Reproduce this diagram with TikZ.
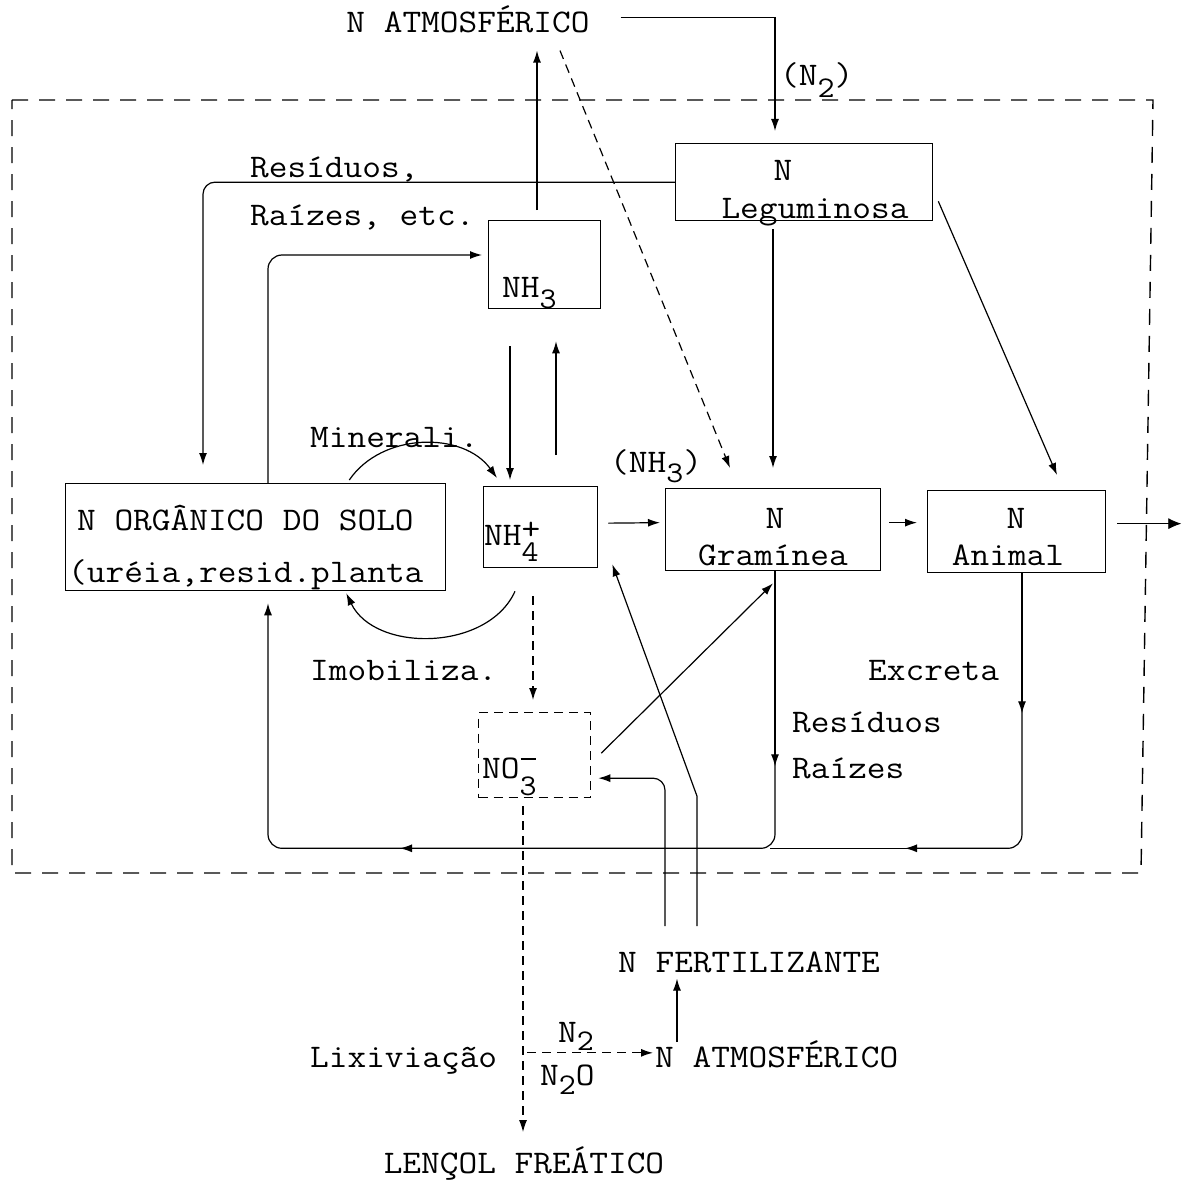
\documentclass[tikz,border=0pt]{standalone}
\usepackage{fontspec}
\setmonofont{Latin Modern Mono}[FakeStretch=1.1]
\usetikzlibrary{arrows.meta,calc}
\newcommand{\subdn}[2][-11pt]{\raisebox{#1}{\fontsize{30}{30}\selectfont #2}}
\begin{document}
\begin{tikzpicture}[x=1pt,y=-1pt,
  box/.style={draw,line width=1.3pt,inner sep=0pt},
  lbl/.style={font=\fontsize{33}{38}\selectfont\ttfamily,inner sep=0pt},
  ln/.style={line width=1.2pt},
  arr/.style={ln,-{Latex[length=12pt,width=8pt]}},
  dsh/.style={dash pattern=on 9pt off 6pt},
  frame/.style={line width=1.4pt,dash pattern=on 16pt off 11pt}
]
\fill[white] (0,0) rectangle (1189,1188);
\useasboundingbox (0,0) rectangle (1189,1188);

% system boundary
\draw[frame] (12,100) -- (1153,100) -- (1141,873) -- (12,873) -- cycle;

% boxes
\node[box,minimum width=257pt,minimum height=77pt,anchor=north west] (leg) at (675,143) {};
\node[box,minimum width=112pt,minimum height=88pt,anchor=north west] (nh3) at (488,220) {};
\node[box,minimum width=380pt,minimum height=107pt,anchor=north west] (org) at (65,483) {};
\node[box,minimum width=114pt,minimum height=81pt,anchor=north west] (nh4) at (483,486) {};
\node[box,minimum width=215pt,minimum height=82pt,anchor=north west] (gram) at (665,488) {};
\node[box,minimum width=178pt,minimum height=82pt,anchor=north west] (anim) at (927,490) {};
\node[box,dsh,minimum width=112pt,minimum height=85pt,anchor=north west] (no3) at (478,712) {};

% texts
\node[lbl,anchor=base] (atm1) at (468,33) {N ATMOSFÉRICO};
\node[lbl,anchor=base west] (n2lbl) at (780,86) {(N\subdn[-12pt]{2})};
\node[lbl,anchor=base west] (res1) at (250,178) {Resíduos,};
\node[lbl,anchor=base west] (rai1) at (250,225) {Raízes, etc.};
\node[lbl,anchor=base west] (nh3t) at (502,297) {NH\subdn{3}};
\node[lbl,anchor=base] (legn) at (783,180) {N};
\node[lbl,anchor=base] (legt) at (815,218) {Leguminosa};
\node[lbl,anchor=base west] (minl) at (310,447) {Minerali.};
\node[lbl,anchor=base west] (orgt1) at (77,530) {N ORGÂNICO DO SOLO};
\node[lbl,anchor=base west] (orgt2) at (68,582) {(uréia,resid.planta};
\node[lbl,anchor=base west] (nh4t) at (484,545) {NH\rlap{\raisebox{6pt}{+}}\subdn[-16pt]{4}};
\node[lbl,anchor=base west] (nh3p) at (610,472) {(NH\subdn[-10pt]{3})};
\node[lbl,anchor=base] (gramn) at (775,528) {N};
\node[lbl,anchor=base] (gramt) at (773,565) {Gramínea};
\node[lbl,anchor=base] (animn) at (1016,528) {N};
\node[lbl,anchor=base] (animt) at (1008,565) {Animal};
\node[lbl,anchor=base west] (imob) at (310,680) {Imobiliza.};
\node[lbl,anchor=base west] (excr) at (868,680) {Excreta};
\node[lbl,anchor=base west] (res2) at (792,732) {Resíduos};
\node[lbl,anchor=base west] (rai2) at (792,778) {Raízes};
\node[lbl,anchor=base west] (no3t) at (482,778) {NO\rlap{\raisebox{18pt}{\kern1pt\rule{15pt}{2pt}}}\subdn[-17pt]{3}};
\node[lbl,anchor=base west] (fert) at (618,972) {N FERTILIZANTE};
\node[lbl,anchor=base west] (lix) at (310,1067) {Lixiviação};
\node[lbl,anchor=base west] (n2b) at (558,1042) {N\subdn[-8pt]{2}};
\node[lbl,anchor=base west] (n2o) at (540,1085) {N\subdn[-9pt]{2}O};
\node[lbl,anchor=base west] (batm) at (655,1067) {N ATMOSFÉRICO};
\node[lbl,anchor=base] (lenc) at (524,1173) {LENÇOL FREÁTICO};

% connectors
\draw[arr] ($(atm1.east)+(31,-2)$) -| ($(leg.north west)+(100,-12)$);
\draw[arr] ($(nh3.north west)+(49,-10)$) -- ($(atm1.south)+(69,17)$);
\draw[arr,dsh] ($(atm1.south)+(92,17)$) -- ($(gram.north west)+(65,-20)$);
\draw[arr,rounded corners=12pt] (leg.west) -| ($(org.north west)+(138,-18)$);
\draw[arr,rounded corners=14pt] ($(org.north west)+(203,0)$) |- ($(nh3.north west)+(-6,35)$);
\draw[arr] ($(org.north east)+(-97,-3)$) to[bend left=55] ($(nh4.north west)+(14,-8)$);
\draw[arr] ($(nh4.south west)+(32,23)$) to[bend left=65] ($(org.south east)+(-100,2)$);
\draw[arr] ($(nh3.south west)+(22,37)$) -- ($(nh4.north west)+(27,-6)$);
\draw[arr] ($(nh4.north west)+(73,-31)$) -- ($(nh3.south west)+(68,32)$);
\draw[arr] ($(nh4.east)+(10,-4)$) -- ($(gram.west)+(-5,-7)$);
\draw[arr] ($(gram.east)+(8,-7)$) -- ($(anim.west)+(-10,-9)$);
\draw[line width=0.8pt,-{Latex[length=13pt,width=11pt]}] ($(anim.east)+(11,-8)$) -- ($(anim.east)+(75,-8)$);
\draw[arr] ($(leg.south west)+(98,8)$) -- ($(gram.north west)+(108,-20)$);
\draw[arr] ($(leg.south east)+(5,-20)$) -- ($(anim.north west)+(130,-15)$);
\draw[arr,dsh] ($(nh4.south west)+(50,28)$) -- ($(no3.north west)+(55,-12)$);
\draw[arr] ($(no3.east)+(10,-2)$) -- ($(gram.south west)+(108,12)$);
\draw[arr] ($(fert.north west)+(79,-25)$) -- ($(fert.north west)+(79,-155)$) -- ($(nh4.south east)+(14,-4)$);
\draw[arr,rounded corners=12pt] ($(fert.north west)+(47,-25)$) |- ($(no3.east)+(7,23)$);
% grass return loop
\draw[arr] ($(gram.south west)+(110,0)$) -- ($(gram.south west)+(110,195)$);
\draw[arr,rounded corners=14pt] ($(gram.south west)+(110,190)$) |- ($(org.south west)+(335,257)$);
\draw[arr,rounded corners=14pt] ($(org.south west)+(340,257)$) -| ($(org.south west)+(203,12)$);
% animal return loop
\draw[arr] ($(anim.south west)+(95,0)$) -- ($(anim.south west)+(95,140)$);
\draw[arr,rounded corners=14pt] ($(anim.south west)+(95,135)$) |- ($(gram.south west)+(240,277)$);
\draw[ln] ($(gram.south west)+(245,277)$) -- ($(gram.south west)+(105,277)$);
% losses
\draw[arr,dsh] ($(no3.south west)+(45,8)$) -- ($(lenc.north)+(-1,-14)$);
\draw[arr,dsh] ($(batm.west)+(-128,-1)$) -- ($(batm.west)+(-2,-1)$);
\draw[arr] ($(batm.north west)+(22,2)$) -- ($(fert.south west)+(59,6)$);
\end{tikzpicture}
\end{document}
